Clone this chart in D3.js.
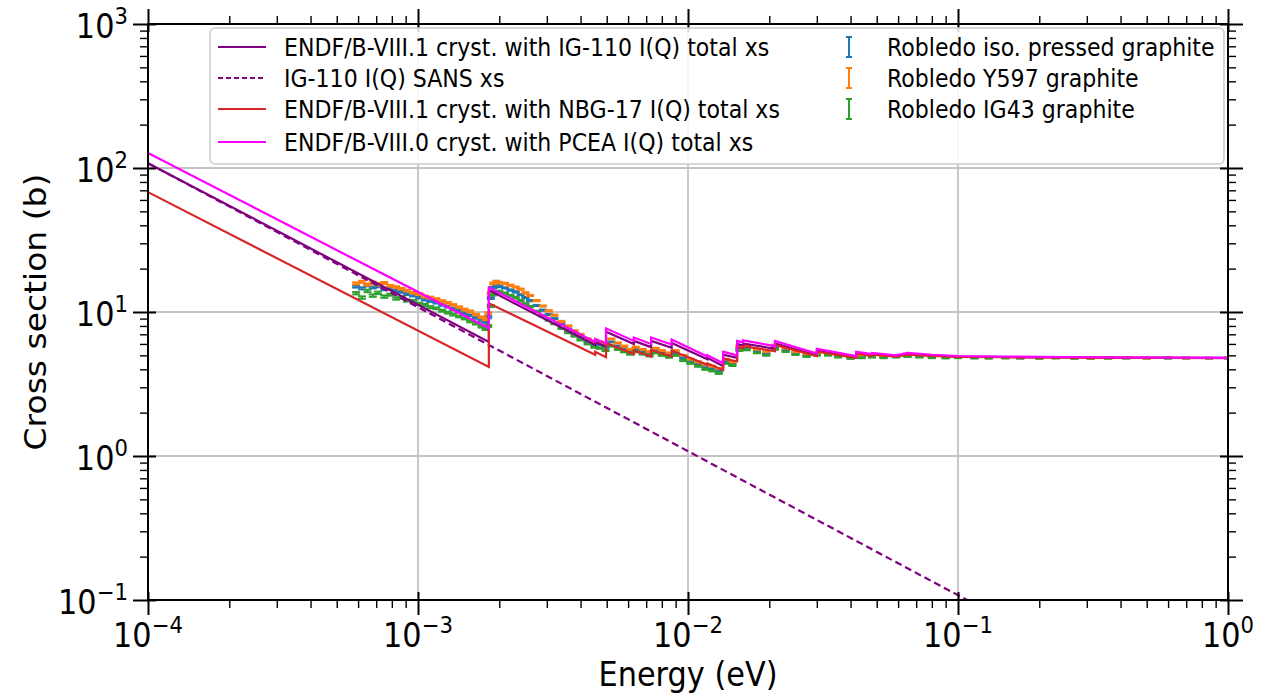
<!DOCTYPE html>
<html><head><meta charset="utf-8">
<script src="https://cdn.jsdelivr.net/npm/d3@7"></script>
<style>
body{margin:0;background:#fff}
svg{display:block}
text{font-family:"DejaVu Sans",sans-serif;fill:#000}
</style>
</head><body>
<svg id="chart" width="1271" height="695"></svg>
<script>
// ---------------- DATA ----------------
const xTickExps = [-4, -3, -2, -1, 0];
const yTickExps = [-1, 0, 1, 2, 3];
const xLabel = "Energy (eV)";
const yLabel = "Cross section (b)";

const modelLabels = [
  "ENDF/B-VIII.1 cryst. with IG-110 I(Q) total xs",
  "IG-110 I(Q) SANS xs",
  "ENDF/B-VIII.1 cryst. with NBG-17 I(Q) total xs",
  "ENDF/B-VIII.0 cryst. with PCEA I(Q) total xs"
];
const dataLabels = [
  "Robledo iso. pressed graphite",
  "Robledo Y597 graphite",
  "Robledo IG43 graphite"
];

// model curves: [energy (eV), cross section (b)]
const ig110Total = [[1e-4,108],[1.83e-3,6.2],[1.83e-3,14.2],[4.53e-3,5.9],[4.53e-3,6.2],[4.97e-3,5.75],[4.97e-3,7.3],
  [6.3e-3,6.0],[6.3e-3,6.3],[7.3e-3,5.7],[7.3e-3,6.3],[8.7e-3,5.65],[8.7e-3,6.1],[1.18e-2,4.7],[1.18e-2,4.8],
  [1.35e-2,4.2],[1.35e-2,5.05],[1.52e-2,4.8],[1.52e-2,6.0],[1.6e-2,5.85],[1.6e-2,6.05],[2.1e-2,5.55],[2.1e-2,6.05],
  [3.0e-2,5.0],[3.0e-2,5.4],[4.2e-2,4.85],[4.2e-2,5.2],[4.8e-2,5.0],[4.8e-2,5.1],[5.9e-2,4.95],[6.5e-2,5.1],
  [8e-2,5.0],[0.1,4.9],[0.15,4.87],[0.3,4.83],[1,4.8]];
const ig110Sans = [[1e-4,108],[1.08e-1,0.1]];
const nbg17Total = [[1e-4,68],[1.83e-3,4.15],[1.83e-3,11.5],[4.53e-3,5.05],[4.53e-3,5.3],[4.97e-3,4.85],[4.97e-3,6.1],
  [6.3e-3,5.1],[6.3e-3,5.4],[7.3e-3,4.9],[7.3e-3,5.45],[8.7e-3,4.9],[8.7e-3,5.4],[1.18e-2,4.3],[1.18e-2,4.4],
  [1.35e-2,3.95],[1.35e-2,4.75],[1.52e-2,4.55],[1.52e-2,5.7],[1.6e-2,5.6],[1.6e-2,5.8],[2.1e-2,5.35],[2.1e-2,5.9],
  [3.0e-2,4.95],[3.0e-2,5.3],[4.2e-2,4.8],[4.2e-2,5.15],[4.8e-2,4.95],[4.8e-2,5.05],[5.9e-2,4.9],[6.5e-2,5.05],
  [8e-2,4.95],[0.1,4.88],[0.15,4.85],[0.3,4.82],[1,4.78]];
const pceaTotal = [[1e-4,127],[1.83e-3,7.7],[1.83e-3,14.8],[4.53e-3,6.2],[4.53e-3,6.5],[4.97e-3,6.05],[4.97e-3,7.7],
  [6.3e-3,6.3],[6.3e-3,6.65],[7.3e-3,6.0],[7.3e-3,6.65],[8.7e-3,5.95],[8.7e-3,6.45],[1.18e-2,4.9],[1.18e-2,5.0],
  [1.35e-2,4.4],[1.35e-2,5.3],[1.52e-2,5.0],[1.52e-2,6.3],[1.6e-2,6.15],[1.6e-2,6.35],[2.1e-2,5.8],[2.1e-2,6.3],
  [3.0e-2,5.15],[3.0e-2,5.55],[4.2e-2,4.95],[4.2e-2,5.3],[4.8e-2,5.1],[4.8e-2,5.2],[5.9e-2,5.0],[6.5e-2,5.2],
  [8e-2,5.05],[0.1,4.95],[0.15,4.9],[0.3,4.85],[1,4.8]];

// measured data energies (eV)
const robledoEnergy = [
  5.9e-4,6.2e-4,6.5e-4,6.8e-4,7.1e-4,7.5e-4,7.9e-4,8.3e-4,8.7e-4,9.1e-4,
  9.6e-4,1.01e-3,1.06e-3,1.11e-3,1.17e-3,1.23e-3,1.29e-3,1.35e-3,1.42e-3,1.49e-3,
  1.56e-3,1.64e-3,1.72e-3,1.78e-3,1.82e-3,1.86e-3,1.90e-3,1.95e-3,2.0e-3,2.1e-3,
  2.2e-3,2.3e-3,2.4e-3,2.5e-3,2.6e-3,2.75e-3,2.9e-3,3.05e-3,3.2e-3,3.4e-3,
  3.6e-3,3.8e-3,4.0e-3,4.25e-3,4.5e-3,4.7e-3,4.95e-3,5.2e-3,5.5e-3,5.8e-3,
  6.1e-3,6.4e-3,6.8e-3,7.2e-3,7.6e-3,8.0e-3,8.5e-3,9.0e-3,9.6e-3,1.02e-2,
  1.09e-2,1.16e-2,1.23e-2,1.3e-2,1.38e-2,1.46e-2,1.55e-2,1.65e-2,1.8e-2,1.95e-2,
  2.1e-2,2.3e-2,2.5e-2,2.75e-2,3.0e-2,3.3e-2,3.6e-2,4.0e-2,4.4e-2,4.8e-2,
  5.3e-2,5.9e-2,6.5e-2,7.2e-2,8e-2,9e-2,0.1,0.115,0.13,0.15,
  0.17,0.2,0.23,0.27,0.31,0.36,0.42,0.5,0.6,0.7,
  0.85,1.0];
const isoPressedXS = [
  15.0,14.6,15.3,14.8,15.1,14.4,14.6,14.0,13.8,13.3,
  13.0,12.6,12.2,11.9,11.6,11.2,10.9,10.5,10.2,9.8,
  9.5,9.1,8.7,8.5,9.2,12.5,14.8,15.2,15.0,14.7,
  14.2,13.8,13.2,12.6,12.0,11.1,10.3,9.6,9.0,8.2,
  7.6,7.1,6.7,6.25,5.95,5.9,5.7,6.2,5.8,5.55,
  5.3,5.5,5.3,5.1,5.4,5.2,5.0,5.2,4.8,4.55,
  4.35,4.15,4.05,3.9,4.55,4.4,5.6,5.6,5.35,5.15,
  5.7,5.45,5.2,5.0,5.1,5.1,4.95,4.82,4.9,4.92,
  4.85,4.92,4.95,4.9,4.85,4.82,4.83,4.8,4.8,4.82,
  4.79,4.8,4.82,4.79,4.8,4.83,4.79,4.8,4.82,4.8,
  4.79,4.8];
const isoPressedErr = [
  0.22,0.25,0.22,0.22,0.25,0.22,0.2,0.2,0.2,0.2,
  0.18,0.18,0.18,0.15,0.15,0.15,0.15,0.15,0.12,0.12,
  0.12,0.12,0.12,0.1,0.15,0.18,0.18,0.18,0.15,0.15,
  0.15,0.15,0.12,0.12,0.12,0.1,0.1,0.1,0.08,0.08,
  0.08,0.06,0.06,0.06,0.05,0.05,0.05,0.05,0.05,0.05,
  0.05,0.05,0.05,0.04,0.04,0.04,0.04,0.04,0.04,0.04,
  0.035,0.035,0.035,0.035,0.035,0.035,0.035,0.035,0.03,0.03,
  0.03,0.03,0.03,0.025,0.025,0.025,0.025,0.025,0.025,0.025,
  0.025,0.025,0.02,0.02,0.02,0.02,0.02,0.02,0.02,0.02,
  0.02,0.02,0.02,0.02,0.02,0.02,0.02,0.02,0.02,0.02,
  0.02,0.02];
const y597XS = [
  15.8,16.2,15.5,16.0,15.6,15.9,15.2,14.9,14.5,14.1,
  13.6,13.3,12.8,12.6,12.3,11.9,11.6,11.2,10.8,10.4,
  10.1,9.6,9.2,8.9,9.8,13.5,15.8,16.3,16.0,15.8,
  15.3,14.9,14.4,13.6,13.0,12.0,11.0,10.2,9.5,8.6,
  8.0,7.4,7.0,6.5,6.2,6.2,6.0,6.5,6.1,5.8,
  5.5,5.7,5.5,5.3,5.6,5.4,5.2,5.4,5.0,4.7,
  4.5,4.3,4.2,4.05,4.7,4.5,5.8,5.8,5.5,5.3,
  5.9,5.6,5.3,5.1,5.2,5.2,5.0,4.9,5.0,5.0,
  4.9,5.0,5.0,4.95,4.9,4.85,4.85,4.82,4.8,4.8,
  4.8,4.78,4.8,4.78,4.75,4.78,4.8,4.76,4.8,4.78,
  4.78,4.8];
const y597Err = [
  0.25,0.28,0.25,0.25,0.28,0.25,0.22,0.22,0.2,0.2,
  0.2,0.2,0.18,0.18,0.18,0.18,0.15,0.15,0.15,0.15,
  0.15,0.12,0.12,0.12,0.15,0.2,0.2,0.2,0.18,0.18,
  0.18,0.15,0.15,0.15,0.12,0.12,0.1,0.1,0.1,0.08,
  0.08,0.08,0.06,0.06,0.06,0.05,0.05,0.05,0.05,0.05,
  0.05,0.05,0.05,0.05,0.04,0.04,0.04,0.04,0.04,0.04,
  0.04,0.035,0.035,0.035,0.035,0.035,0.035,0.035,0.035,0.03,
  0.03,0.03,0.03,0.03,0.025,0.025,0.025,0.025,0.025,0.025,
  0.025,0.025,0.025,0.025,0.02,0.02,0.02,0.02,0.02,0.02,
  0.02,0.02,0.02,0.02,0.02,0.02,0.02,0.02,0.02,0.02,
  0.02,0.02];
const ig43XS = [
  13.5,12.6,14.0,13.0,13.6,12.8,13.2,12.4,12.6,12.0,
  11.9,11.4,11.2,10.8,10.6,10.2,9.9,9.6,9.3,9.0,
  8.6,8.3,7.9,7.6,8.0,11.0,13.2,13.9,13.8,13.5,
  13.0,12.6,12.0,11.4,10.9,10.1,9.4,8.8,8.3,7.7,
  7.2,6.8,6.4,6.0,5.7,5.6,5.4,5.8,5.5,5.3,
  5.1,5.3,5.1,4.95,5.2,5.0,4.85,5.0,4.6,4.4,
  4.2,4.0,3.9,3.75,4.4,4.25,5.4,5.45,5.2,5.0,
  5.5,5.3,5.05,4.9,5.0,5.0,4.85,4.75,4.8,4.85,
  4.8,4.85,4.9,4.85,4.8,4.78,4.8,4.78,4.77,4.78,
  4.77,4.76,4.78,4.76,4.77,4.76,4.77,4.78,4.76,4.77,
  4.77,4.77];
const ig43Err = [
  0.25,0.25,0.28,0.25,0.25,0.25,0.22,0.22,0.22,0.2,
  0.2,0.18,0.18,0.18,0.15,0.15,0.15,0.15,0.12,0.12,
  0.12,0.12,0.1,0.1,0.12,0.18,0.18,0.18,0.18,0.15,
  0.15,0.15,0.15,0.12,0.12,0.1,0.1,0.1,0.08,0.08,
  0.08,0.06,0.06,0.05,0.05,0.05,0.05,0.05,0.05,0.05,
  0.05,0.05,0.04,0.04,0.04,0.04,0.04,0.04,0.04,0.035,
  0.035,0.035,0.035,0.035,0.035,0.035,0.035,0.03,0.03,0.03,
  0.03,0.03,0.025,0.025,0.025,0.025,0.025,0.025,0.025,0.025,
  0.025,0.025,0.02,0.02,0.02,0.02,0.02,0.02,0.02,0.02,
  0.02,0.02,0.02,0.02,0.02,0.02,0.02,0.02,0.02,0.02,
  0.02,0.02];

// ---------------- STYLE / LAYOUT ----------------
const modelColors = ["#800080", "#800080", "#d62728", "#ff00ff"];
const dataColors = ["#1f77b4", "#ff7f0e", "#2ca02c"];
const L = 148, R = 1228, T = 24, B = 600;
const SX = 0.92;          // horizontal text compression seen in reference
const FS = 33;            // tick/axis label font size
const LFS = 24;           // legend font size

const svg = d3.select("#chart");
const x = d3.scaleLog().domain([1e-4, 1]).range([L, R]);
const y = d3.scaleLog().domain([0.1, 1000]).range([B, T]);

svg.append("defs").append("clipPath").attr("id", "clip")
  .append("rect").attr("x", L).attr("y", T).attr("width", R - L).attr("height", B - T);

const xMajor = xTickExps.map(e => Math.pow(10, e));
const yMajor = yTickExps.map(e => Math.pow(10, e));
const xMinor = [], yMinor = [];
for (let e = -4; e < 0; e++) for (let k = 2; k < 10; k++) xMinor.push(k * Math.pow(10, e));
for (let e = -1; e < 3; e++) for (let k = 2; k < 10; k++) yMinor.push(k * Math.pow(10, e));

// grid
const grid = svg.append("g");
grid.selectAll("line.gx").data(xMajor).join("line")
  .attr("x1", d => x(d)).attr("x2", d => x(d)).attr("y1", T).attr("y2", B)
  .attr("stroke", "#c4c4c4").attr("stroke-width", 1.8);
grid.selectAll("line.gy").data(yMajor).join("line")
  .attr("y1", d => y(d)).attr("y2", d => y(d)).attr("x1", L).attr("x2", R)
  .attr("stroke", "#c4c4c4").attr("stroke-width", 1.8);

// measured data (error bars)
const plot = svg.append("g").attr("clip-path", "url(#clip)");
const dataSets = [
  {xs: isoPressedXS, err: isoPressedErr},
  {xs: y597XS, err: y597Err},
  {xs: ig43XS, err: ig43Err}
];
const capW = 4;
dataSets.forEach((ds, i) => {
  const pts = robledoEnergy.map((E, j) => ({E, v: ds.xs[j], e: ds.err[j]}));
  const g = plot.append("g").attr("stroke", dataColors[i]).attr("stroke-width", 2);
  g.selectAll("line.v").data(pts).join("line")
    .attr("x1", d => x(d.E)).attr("x2", d => x(d.E))
    .attr("y1", d => y(d.v - d.e)).attr("y2", d => y(d.v + d.e));
  g.selectAll("line.c1").data(pts).join("line")
    .attr("x1", d => x(d.E) - capW).attr("x2", d => x(d.E) + capW)
    .attr("y1", d => y(d.v - d.e)).attr("y2", d => y(d.v - d.e));
  g.selectAll("line.c2").data(pts).join("line")
    .attr("x1", d => x(d.E) - capW).attr("x2", d => x(d.E) + capW)
    .attr("y1", d => y(d.v + d.e)).attr("y2", d => y(d.v + d.e));
});

// model curves
const line = d3.line().x(d => x(d[0])).y(d => y(d[1]));
const models = [ig110Total, ig110Sans, nbg17Total, pceaTotal];
models.forEach((m, i) => {
  plot.append("path").datum(m).attr("d", line)
    .attr("fill", "none").attr("stroke", modelColors[i]).attr("stroke-width", 2.2)
    .attr("stroke-dasharray", i === 1 ? "7,4" : null)
    .attr("stroke-linejoin", "miter");
});

// axes (ticks on all four sides)
function styleAxis(g, inLen, horiz, sign, w) {
  g.select(".domain").remove();
  g.selectAll(".tick text").remove();
  g.selectAll(".tick line").attr("stroke", "#000").attr("stroke-width", w);
  if (inLen) {
    if (horiz) g.selectAll(".tick line").attr("y1", -sign * inLen);
    else g.selectAll(".tick line").attr("x1", -sign * inLen);
  }
}
const axB = svg.append("g").attr("transform", `translate(0,${B})`).call(d3.axisBottom(x).tickValues(xMajor).tickSize(15).tickFormat(""));
styleAxis(axB, 8, true, 1, 2);
const axBm = svg.append("g").attr("transform", `translate(0,${B})`).call(d3.axisBottom(x).tickValues(xMinor).tickSize(8).tickFormat(""));
styleAxis(axBm, 0, true, 1, 1.4);
const axT = svg.append("g").attr("transform", `translate(0,${T})`).call(d3.axisTop(x).tickValues(xMajor).tickSize(15).tickFormat(""));
styleAxis(axT, 8, true, -1, 2);
const axTm = svg.append("g").attr("transform", `translate(0,${T})`).call(d3.axisTop(x).tickValues(xMinor).tickSize(8).tickFormat(""));
styleAxis(axTm, 0, true, -1, 1.4);
const axL = svg.append("g").attr("transform", `translate(${L},0)`).call(d3.axisLeft(y).tickValues(yMajor).tickSize(15).tickFormat(""));
styleAxis(axL, 8, false, -1, 2);
const axLm = svg.append("g").attr("transform", `translate(${L},0)`).call(d3.axisLeft(y).tickValues(yMinor).tickSize(8).tickFormat(""));
styleAxis(axLm, 0, false, -1, 1.4);
const axR = svg.append("g").attr("transform", `translate(${R},0)`).call(d3.axisRight(y).tickValues(yMajor).tickSize(15).tickFormat(""));
styleAxis(axR, 8, false, 1, 2);
const axRm = svg.append("g").attr("transform", `translate(${R},0)`).call(d3.axisRight(y).tickValues(yMinor).tickSize(8).tickFormat(""));
styleAxis(axRm, 0, false, 1, 1.4);

// frame
svg.append("rect").attr("x", L).attr("y", T).attr("width", R - L).attr("height", B - T)
  .attr("fill", "none").attr("stroke", "#000").attr("stroke-width", 2);

// tick labels 10^n
function powLabel(px, py, exp, anchor) {
  const t = svg.append("text").attr("transform", `translate(${px},${py}) scale(${SX},1)`)
    .attr("text-anchor", anchor).attr("font-size", FS);
  t.append("tspan").text("10");
  t.append("tspan").attr("font-size", FS * 0.7).attr("dy", -FS * 0.42)
    .text(exp < 0 ? "\u2212" + (-exp) : String(exp));
}
xTickExps.forEach(e => powLabel(x(Math.pow(10, e)), 647, e, "middle"));
yTickExps.forEach(e => powLabel(128, y(Math.pow(10, e)) + 14, e, "end"));

// axis titles
svg.append("text").attr("transform", `translate(${(L + R) / 2},686) scale(${SX},1)`)
  .attr("text-anchor", "middle").attr("font-size", FS).text(xLabel);
svg.append("text").attr("transform", `translate(46,${(T + B) / 2}) scale(${SX},1) rotate(-90)`)
  .attr("text-anchor", "middle").attr("font-size", FS).text(yLabel);

// legend
const lg = svg.append("g");
lg.append("rect").attr("x", 210).attr("y", 28).attr("width", 1014).attr("height", 136).attr("rx", 5)
  .attr("fill", "#fff").attr("fill-opacity", 0.85).attr("stroke", "#cccccc").attr("stroke-width", 1.5);
const rowY = [47, 78, 109, 142];
modelLabels.forEach((lab, i) => {
  lg.append("line").attr("x1", 218).attr("x2", 266).attr("y1", rowY[i]).attr("y2", rowY[i])
    .attr("stroke", modelColors[i]).attr("stroke-width", 2.2)
    .attr("stroke-dasharray", i === 1 ? "5,3" : null);
  lg.append("text").attr("transform", `translate(284,${rowY[i] + 8.5}) scale(${SX},1)`)
    .attr("font-size", LFS).text(lab);
});
dataLabels.forEach((lab, i) => {
  const cx = 849, cy = rowY[i];
  const g = lg.append("g").attr("stroke", dataColors[i]).attr("stroke-width", 2);
  g.append("line").attr("x1", cx).attr("x2", cx).attr("y1", cy - 10).attr("y2", cy + 10);
  g.append("line").attr("x1", cx - 3).attr("x2", cx + 3).attr("y1", cy - 10).attr("y2", cy - 10);
  g.append("line").attr("x1", cx - 3).attr("x2", cx + 3).attr("y1", cy + 10).attr("y2", cy + 10);
  lg.append("text").attr("transform", `translate(887,${cy + 8.5}) scale(${SX},1)`)
    .attr("font-size", LFS).text(lab);
});
</script>
</body></html>
